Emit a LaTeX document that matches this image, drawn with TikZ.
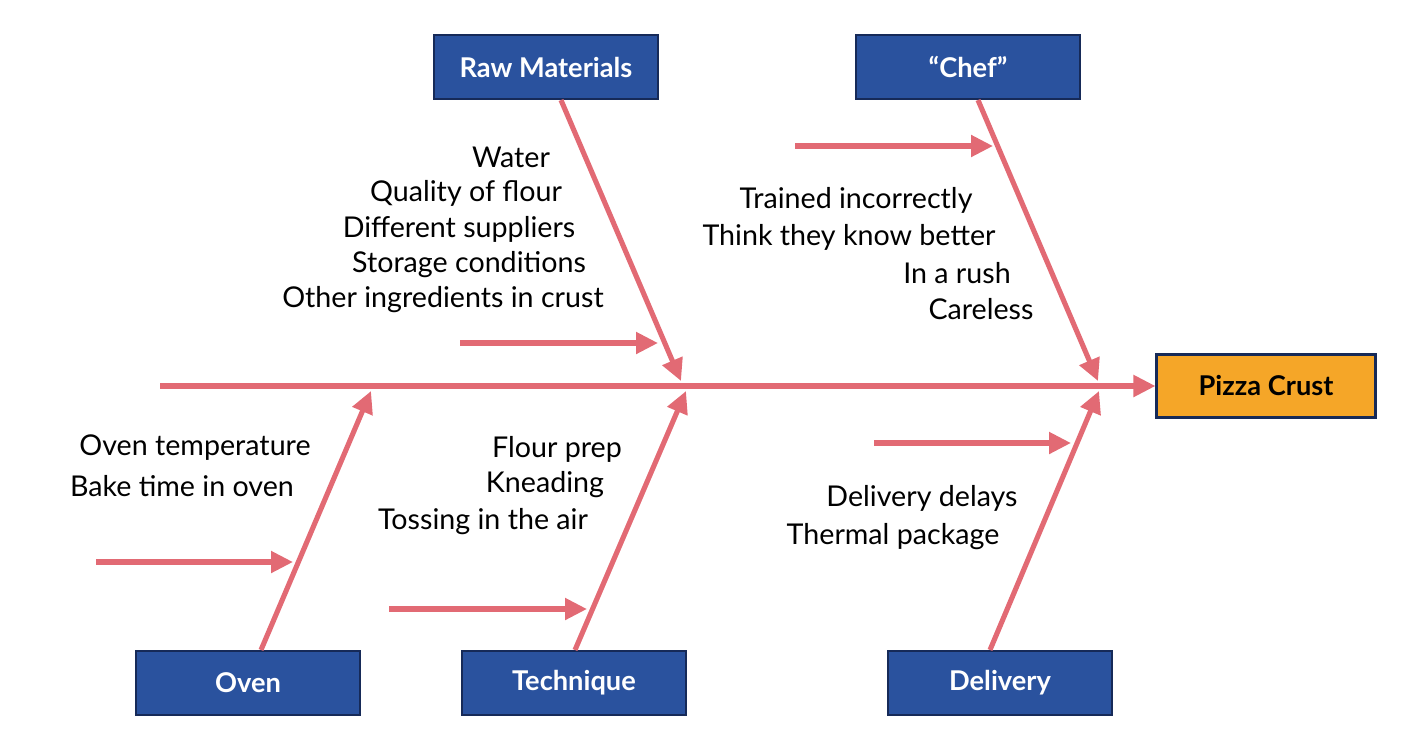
\documentclass[tikz,border=0pt]{standalone}
\usepackage{fontspec}
\setmainfont{Lato}
\usetikzlibrary{arrows.meta}
\definecolor{boxblue}{RGB}{42,82,158}
\definecolor{boxedge}{RGB}{22,42,88}
\definecolor{bonered}{RGB}{226,106,116}
\definecolor{crustorange}{RGB}{245,166,40}

\begin{document}
\begin{tikzpicture}
        [%%%%%%%%%%%%%%%%%%%%%%%%%%%%%%
        x=0.02cm,y=-0.02cm,
        cause/.style={draw=boxedge,fill=boxblue,line width=1.2pt,minimum width=4.48cm,
          minimum height=1.28cm,text=white,font=\bfseries\fontsize{15.5}{17}\selectfont},
        effect/.style={cause,fill=crustorange,text=black,minimum width=4.38cm,minimum height=1.26cm},
        bone/.style={draw=bonered,line width=2.9pt,-{Triangle[length=0.44cm,width=0.42cm]}},
        item/.style={font=\fontsize{16.3}{18}\selectfont,inner sep=0pt},
        ]%%%%%%%%%%%%%%%%%%%%%%%%%%%%%%
        \useasboundingbox (0,0) rectangle (1414,752);

        % Boxes
        \node[cause] (raw) at (546,67) {Raw Materials};
        \node[cause] (chef) at (968,67) {``Chef''};
        \node[cause] (oven) at (248,683) {Oven};
        \node[cause] (technique) at (574,683) {Technique};
        \node[cause] (delivery) at (1000,683) {Delivery};
        \node[effect] (crust) at (1266,386) {Pizza Crust};

        % Spine
        \coordinate (tail) at (160,386);
        \draw[bone] (tail) -- (crust.west);

        % Main bones
        \coordinate (rawtip) at (681,381);
        \coordinate (cheftip) at (1098,381);
        \coordinate (oventip) at (371,391);
        \coordinate (techtip) at (686,391);
        \coordinate (delitip) at (1099,391);
        \draw[bone] (raw.south -| 561,0) -- (rawtip);
        \draw[bone] (chef.south -| 978,0) -- (cheftip);
        \draw[bone] (oven.north -| 261,0) -- (oventip);
        \draw[bone] (technique.north -| 575,0) -- (techtip);
        \draw[bone] (delivery.north -| 990,0) -- (delitip);

        % Small bones
        \foreach \name/\xa/\xb/\y in {rawsub/460/658/343, chefsub/795/993/146,
          ovensub/96/293/562, techsub/389/587/609, delisub/874/1071/443}{
          \coordinate (\name a) at (\xa,\y);
          \coordinate (\name b) at (\xb,\y);
          \draw[bone] (\name a) -- (\name b);
        }

        % Causes
        \node[item] (water) at (511,157) {Water};
        \node[item] (flour) at (466,193) {Quality of flour};
        \node[item] (suppliers) at (459,229) {Different suppliers};
        \node[item] (storage) at (469,265) {Storage conditions};
        \node[item] (ingredients) at (443,300) {Other ingredients in crust};

        \node[item] (trained) at (856,200) {Trained incorrectly};
        \node[item] (better) at (849,237) {Think they know better};
        \node[item] (rush) at (957,273) {In a rush};
        \node[item] (careless) at (981,309) {Careless};

        \node[item] (temp) at (195,448) {Oven temperature};
        \node[item] (baketime) at (182,486) {Bake time in oven};

        \node[item] (prep) at (557,449) {Flour prep};
        \node[item] (kneading) at (545,485) {Kneading};
        \node[item] (tossing) at (483,522) {Tossing in the air};

        \node[item] (delays) at (922,498) {Delivery delays};
        \node[item] (package) at (893,537) {Thermal package};

      \end{tikzpicture}
\end{document}
